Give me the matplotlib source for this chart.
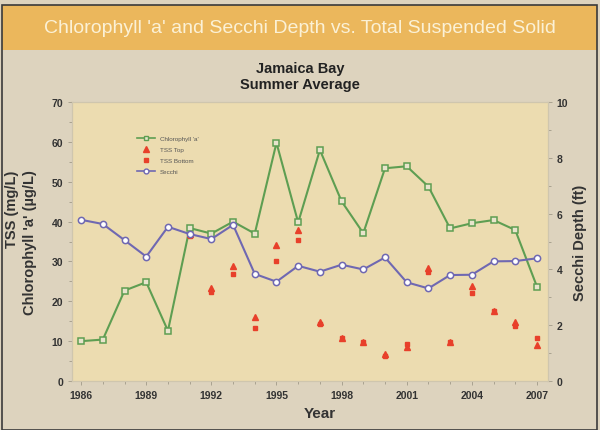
import matplotlib.pyplot as plt
from matplotlib.patches import Rectangle
from matplotlib.lines import Line2D
from matplotlib.ticker import MultipleLocator

plt.rcParams['font.family'] = ['Liberation Sans', 'DejaVu Sans']

years = list(range(1986, 2008))

chlorophyll = [10.0, 10.4, 22.7, 24.8, 12.6, 38.4, 37.0, 40.0, 37.0, 59.8, 39.8,
               58.0, 45.1, 37.1, 53.4, 53.9, 48.8, 38.3, 39.6, 40.4, 37.9, 23.7]
secchi = [5.78, 5.63, 5.05, 4.46, 5.53, 5.27, 5.09, 5.60, 3.84, 3.56, 4.13,
          3.92, 4.17, 4.00, 4.43, 3.54, 3.32, 3.80, 3.81, 4.29, 4.30, 4.40]

tss_years = list(range(1991, 2008))
tss_top = [37.0, 23.3, 28.9, 16.0, 34.2, 38.0, 14.8, 10.8, 9.9, 6.9, 8.5,
           28.3, 9.9, 23.9, 17.6, 14.7, 9.0]
tss_bottom = [36.5, 22.3, 26.8, 13.2, 30.2, 35.5, 14.2, 10.7, 9.7, 6.2, 9.3,
              27.4, 9.7, 22.1, 17.6, 13.9, 10.9]

year_ticks = [1986, 1989, 1992, 1995, 1998, 2001, 2004, 2007]

GREEN = '#5e9e52'
BLUE = '#6f68b2'
RED = '#e8402a'
PLOT_BG = '#ecdcb0'
OUTER_BG = '#ddd3be'
BAND = '#ebb75c'

fig = plt.figure(figsize=(6, 4.31), dpi=100)
fig.patch.set_facecolor(OUTER_BG)

# header band and frame
fig.patches.append(Rectangle((0.003, 0.882), 0.992, 0.105, transform=fig.transFigure,
                             facecolor=BAND, edgecolor='none', zorder=0))
fig.patches.append(Rectangle((0.003, 0.0), 0.992, 0.987, transform=fig.transFigure,
                             facecolor='none', edgecolor='#3a3a3a', linewidth=1.2, zorder=1))
fig.text(0.5, 0.933, "Chlorophyll 'a' and Secchi Depth vs. Total Suspended Solid",
         ha='center', va='center', fontsize=14, color='#fbf1d6')
fig.text(0.5, 0.822, "Jamaica Bay\nSummer Average", ha='center', va='center',
         fontsize=10.5, fontweight='bold', color='#222222', linespacing=1.2)

ax = fig.add_axes([0.12, 0.1137, 0.793, 0.647])
ax.set_facecolor(PLOT_BG)
ax2 = ax.twinx()
ax2.patch.set_visible(False)

ax.plot(years, chlorophyll, color=GREEN, lw=1.5, marker='s', ms=4.5,
        mfc='#e8e4cc', mec=GREEN, mew=1.1, zorder=3)
ax.plot(tss_years, tss_top, ls='none', marker='^', ms=4.2, color=RED, zorder=4)
ax.plot(tss_years, tss_bottom, ls='none', marker='s', ms=3.5, color=RED, zorder=4)
ax2.plot(years, secchi, color=BLUE, lw=1.5, marker='o', ms=4.5,
         mfc='white', mec=BLUE, mew=1.1, zorder=3)

ax.set_xlim(1985.58, 2007.5)
ax.set_ylim(0, 70)
ax2.set_ylim(0, 10)
ax.set_xticks(year_ticks)
ax.xaxis.set_minor_locator(MultipleLocator(1))
ax.yaxis.set_major_locator(MultipleLocator(10))
ax.yaxis.set_minor_locator(MultipleLocator(5))
ax2.yaxis.set_major_locator(MultipleLocator(2))
ax2.yaxis.set_minor_locator(MultipleLocator(1))

for a in (ax, ax2):
    for s in a.spines.values():
        s.set_color('#cfc6ae')
        s.set_linewidth(0.8)
    a.tick_params(which='both', color='#a9a290', length=3, width=0.7)
    a.tick_params(which='minor', length=2)
    a.tick_params(labelsize=7.5, labelcolor='#333333')
    for lab in a.get_xticklabels() + a.get_yticklabels():
        lab.set_fontweight('bold')

ax.set_xlabel('Year', fontsize=11, fontweight='bold', color='#333333')
ax.xaxis.set_label_coords(0.52, -0.09)
ax.set_ylabel("TSS (mg/L)\nChlorophyll 'a' (µg/L)", fontsize=10.5, fontweight='bold',
              color='#333333', linespacing=1.3, multialignment='right')
ax.yaxis.set_label_coords(-0.074, 0.5)
ax2.set_ylabel('Secchi Depth (ft)', fontsize=10.5, fontweight='bold', color='#333333')
ax2.yaxis.set_label_coords(1.052, 0.5)

handles = [
    Line2D([], [], color=GREEN, lw=1.2, marker='s', ms=3.5, mfc='#e8e4cc', mec=GREEN),
    Line2D([], [], ls='none', marker='^', ms=4, color=RED),
    Line2D([], [], ls='none', marker='s', ms=3.5, color=RED),
    Line2D([], [], color=BLUE, lw=1.2, marker='o', ms=3.5, mfc='white', mec=BLUE),
]
labels = ["Chlorophyll 'a'", 'TSS Top', 'TSS Bottom', 'Secchi']
ax2.legend(handles, labels, loc='upper left', bbox_to_anchor=(0.125, 0.9), frameon=False,
           fontsize=4.5, handlelength=2.8, labelspacing=0.9, labelcolor='#555555')

fig.savefig('out.png', dpi=100, facecolor=fig.get_facecolor())
